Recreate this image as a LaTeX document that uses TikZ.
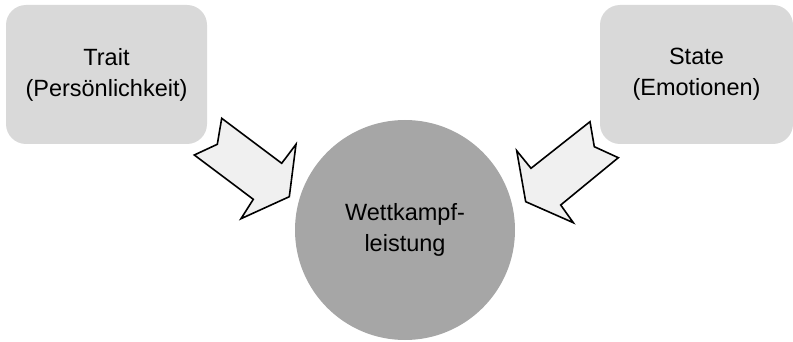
\documentclass[tikz,border=0pt]{standalone}
\usepackage{fontspec}
\setmainfont{Liberation Sans}

\begin{document}
\begin{tikzpicture}[x=0.5pt,y=-0.5pt,line join=miter,
		box/.style={fill=boxgray,rounded corners=10pt,align=center,
			minimum height=69.5pt,font=\fontsize{11.75}{15.5}\selectfont},
		blockarrow/.style={draw=black,fill=arrowgray,line width=0.8pt}]
		\definecolor{boxgray}{HTML}{D9D9D9}
		\definecolor{circgray}{HTML}{A6A6A6}
		\definecolor{arrowgray}{HTML}{F0F0F0}
		\useasboundingbox (0,0) rectangle (793,342);
		%\draw[help lines] (0,0) grid[step=50] (793,342);
		\node[box,minimum width=100.5pt] (trait) at (106.5,74.5) {Trait\\(Persönlichkeit)};
		\node[box,minimum width=96.5pt] (state) at (696.5,74.5) {State\\(Emotionen)};
		\node[circle,fill=circgray,minimum size=110pt,inner sep=0pt,align=center,
			font=\fontsize{11.75}{15.5}\selectfont] (perf) at (405,230) {Wettkampf-\\leistung};
		% block arrows from the boxes to the circle
		\draw[blockarrow] (221.7,118.3) -- (217.3,144.3) -- (194.3,155) -- (253.3,199.3)
			-- (241,218.7) -- (289.3,196.7) -- (296,144.3) -- (281.7,163.3) -- cycle;
		\draw[blockarrow] (590,121.7) -- (594.3,146.7) -- (618.3,157.7) -- (560.7,205)
			-- (573.3,222.7) -- (525.7,201.7) -- (516.7,150.7) -- (531,168.3) -- cycle;
\end{tikzpicture}
\end{document}
